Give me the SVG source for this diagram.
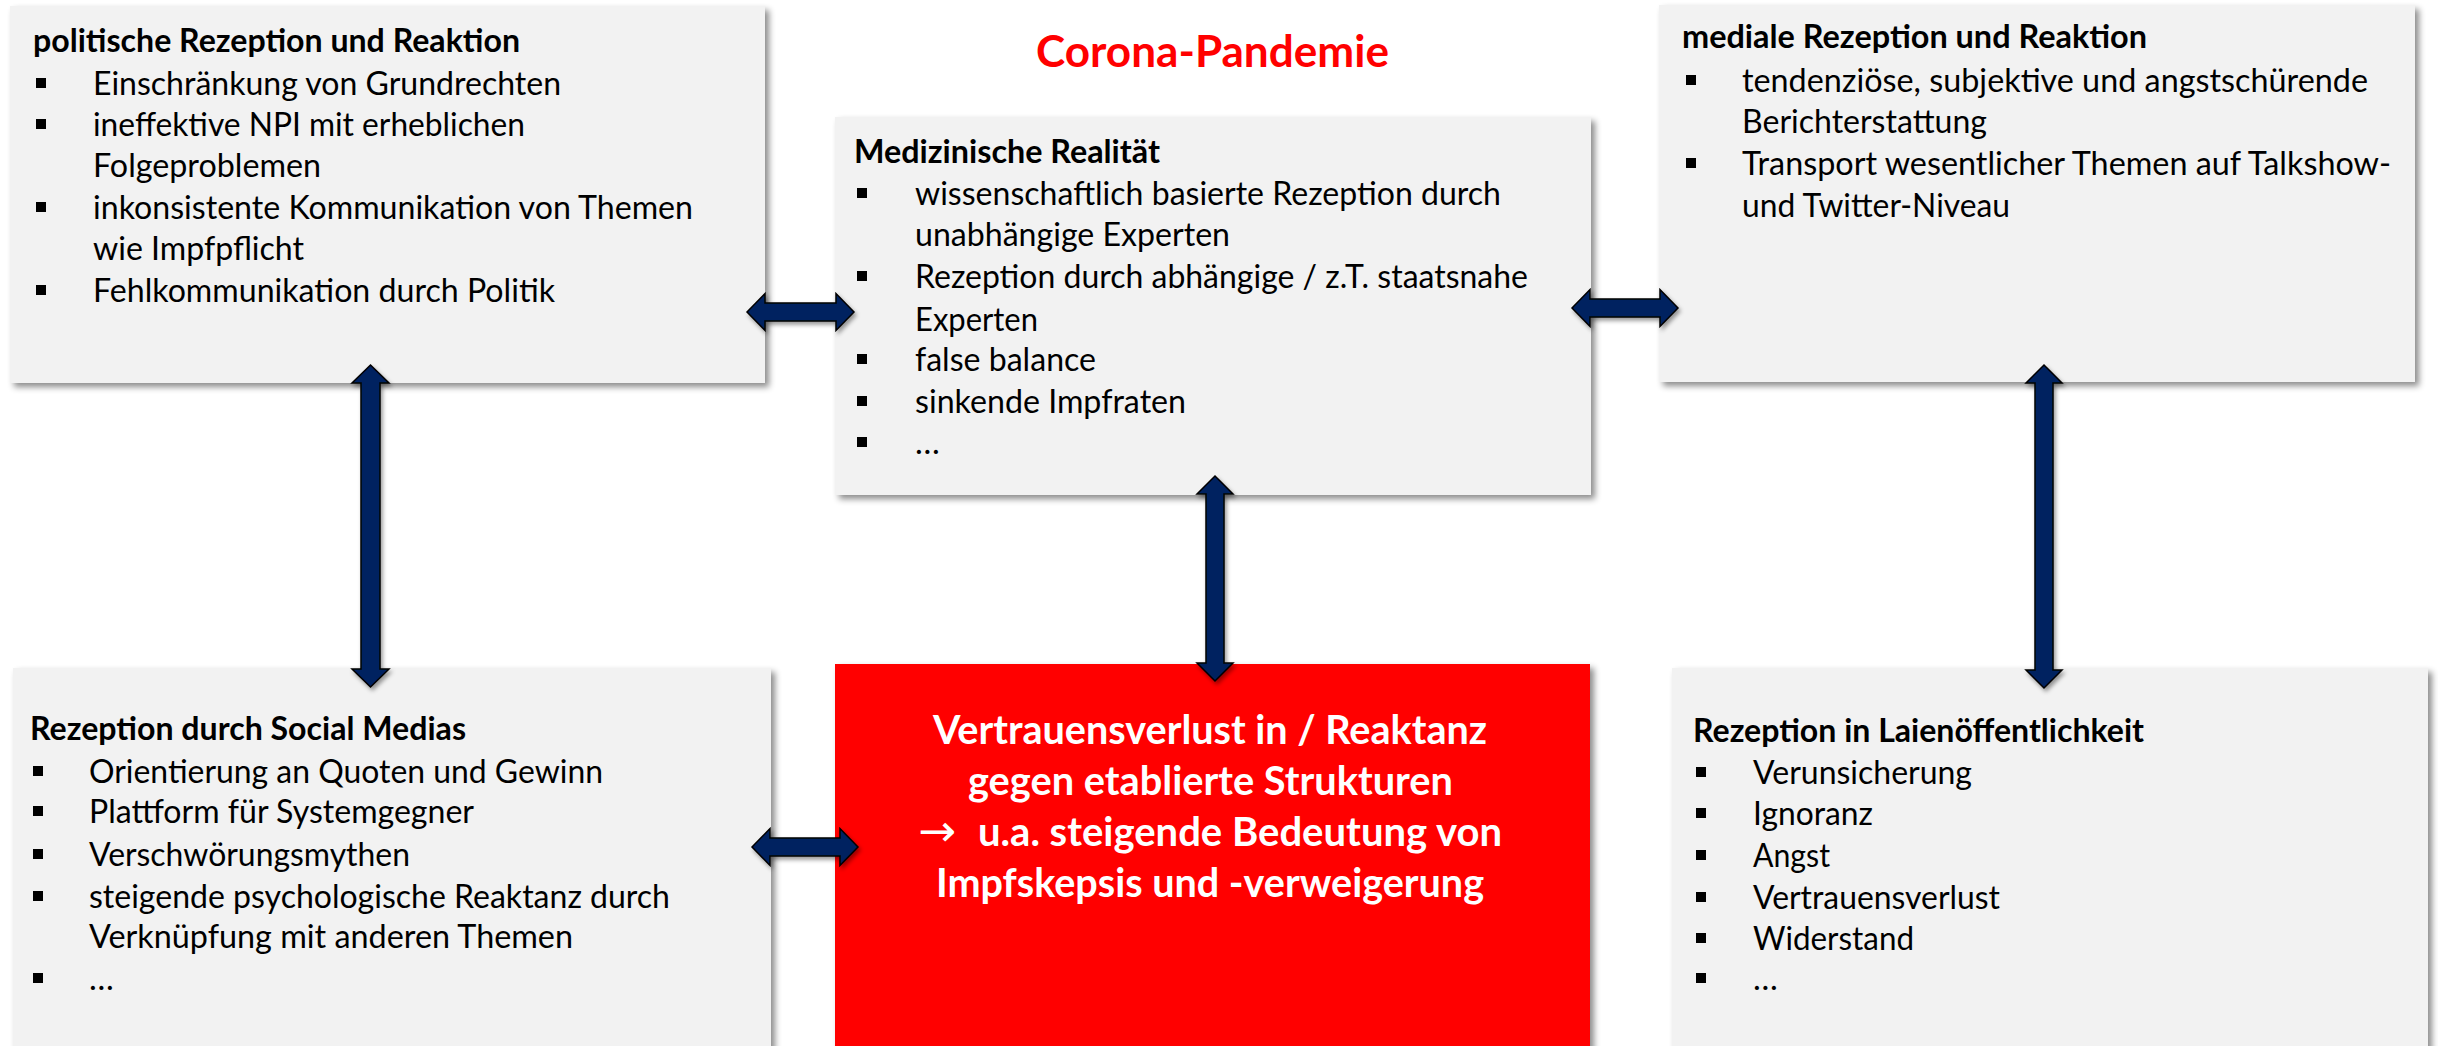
<svg xmlns="http://www.w3.org/2000/svg" width="2438" height="1046" viewBox="0 0 2438 1046">
<defs>
<filter id="sh" x="-5%" y="-5%" width="115%" height="115%">
<feDropShadow dx="4" dy="4" stdDeviation="3" flood-color="#000" flood-opacity="0.45"/>
</filter>
<filter id="ash" x="-20%" y="-20%" width="150%" height="150%">
<feDropShadow dx="2" dy="3" stdDeviation="2" flood-color="#000" flood-opacity="0.4"/>
</filter>
</defs>
<style>
.box{fill:#F2F2F2;filter:url(#sh)}
.red{fill:#FF0000;filter:url(#sh)}
.t{font-family:Lato,"Open Sans",sans-serif;font-size:33px;fill:#000}
.h{font-family:Lato,"Open Sans",sans-serif;font-size:33px;font-weight:bold;fill:#000}
.w{font-family:Lato,"Open Sans",sans-serif;font-size:40px;font-weight:bold;fill:#FFFFFF}
.title{font-family:Lato,"Open Sans",sans-serif;font-size:44px;font-weight:bold;fill:#FF0000}
.b{fill:#000}
.arr{fill:#002060;stroke:#000;stroke-width:1.5;stroke-linejoin:miter;filter:url(#ash)}
</style>
<rect width="2438" height="1046" fill="#FFFFFF"/>

<g id="title">
<text class="title" x="1036" y="67" textLength="353" lengthAdjust="spacingAndGlyphs">Corona-Pandemie</text>
</g>

<g id="n-politik">
<rect class="box" x="10" y="6" width="755" height="377"/>
<text class="h" x="33" y="52" textLength="487" lengthAdjust="spacingAndGlyphs">politische Rezeption und Reaktion</text>
<rect class="b" x="36" y="78" width="10" height="10"/>
<text class="t" x="93" y="95" textLength="468" lengthAdjust="spacingAndGlyphs">Einschränkung von Grundrechten</text>
<rect class="b" x="36" y="119" width="10" height="10"/>
<text class="t" x="93" y="136" textLength="432" lengthAdjust="spacingAndGlyphs">ineffektive NPI mit erheblichen</text>
<text class="t" x="93" y="177" textLength="228" lengthAdjust="spacingAndGlyphs">Folgeproblemen</text>
<rect class="b" x="36" y="202" width="10" height="10"/>
<text class="t" x="93" y="219" textLength="600" lengthAdjust="spacingAndGlyphs">inkonsistente Kommunikation von Themen</text>
<text class="t" x="93" y="260" textLength="211" lengthAdjust="spacingAndGlyphs">wie Impfpflicht</text>
<rect class="b" x="36" y="285" width="10" height="10"/>
<text class="t" x="93" y="302" textLength="462" lengthAdjust="spacingAndGlyphs">Fehlkommunikation durch Politik</text>
</g>

<g id="n-medizin">
<rect class="box" x="835" y="117" width="756" height="378"/>
<text class="h" x="854" y="163" textLength="306" lengthAdjust="spacingAndGlyphs">Medizinische Realität</text>
<rect class="b" x="857" y="188" width="10" height="10"/>
<text class="t" x="915" y="205" textLength="586" lengthAdjust="spacingAndGlyphs">wissenschaftlich basierte Rezeption durch</text>
<text class="t" x="915" y="246" textLength="315" lengthAdjust="spacingAndGlyphs">unabhängige Experten</text>
<rect class="b" x="857" y="271" width="10" height="10"/>
<text class="t" x="915" y="288" textLength="613" lengthAdjust="spacingAndGlyphs">Rezeption durch abhängige / z.T. staatsnahe</text>
<text class="t" x="915" y="331" textLength="123" lengthAdjust="spacingAndGlyphs">Experten</text>
<rect class="b" x="857" y="354" width="10" height="10"/>
<text class="t" x="915" y="371" textLength="181" lengthAdjust="spacingAndGlyphs">false balance</text>
<rect class="b" x="857" y="396" width="10" height="10"/>
<text class="t" x="915" y="413" textLength="271" lengthAdjust="spacingAndGlyphs">sinkende Impfraten</text>
<rect class="b" x="857" y="437" width="10" height="10"/>
<text class="t" x="915" y="454">…</text>
</g>

<g id="n-medial">
<rect class="box" x="1659" y="5" width="756" height="377"/>
<text class="h" x="1682" y="48" textLength="465" lengthAdjust="spacingAndGlyphs">mediale Rezeption und Reaktion</text>
<rect class="b" x="1686" y="75" width="10" height="10"/>
<text class="t" x="1742" y="92" textLength="626" lengthAdjust="spacingAndGlyphs">tendenziöse, subjektive und angstschürende</text>
<text class="t" x="1742" y="133" textLength="245" lengthAdjust="spacingAndGlyphs">Berichterstattung</text>
<rect class="b" x="1686" y="158" width="10" height="10"/>
<text class="t" x="1742" y="175" textLength="649" lengthAdjust="spacingAndGlyphs">Transport wesentlicher Themen auf Talkshow-</text>
<text class="t" x="1742" y="217" textLength="268" lengthAdjust="spacingAndGlyphs">und Twitter-Niveau</text>
</g>

<g id="n-social">
<rect class="box" x="13" y="668" width="758" height="400"/>
<text class="h" x="30" y="740" textLength="436" lengthAdjust="spacingAndGlyphs">Rezeption durch Social Medias</text>
<rect class="b" x="33" y="766" width="10" height="10"/>
<text class="t" x="89" y="783" textLength="514" lengthAdjust="spacingAndGlyphs">Orientierung an Quoten und Gewinn</text>
<rect class="b" x="33" y="806" width="10" height="10"/>
<text class="t" x="89" y="823" textLength="385" lengthAdjust="spacingAndGlyphs">Plattform für Systemgegner</text>
<rect class="b" x="33" y="849" width="10" height="10"/>
<text class="t" x="89" y="866" textLength="321" lengthAdjust="spacingAndGlyphs">Verschwörungsmythen</text>
<rect class="b" x="33" y="891" width="10" height="10"/>
<text class="t" x="89" y="908" textLength="581" lengthAdjust="spacingAndGlyphs">steigende psychologische Reaktanz durch</text>
<text class="t" x="89" y="948" textLength="484" lengthAdjust="spacingAndGlyphs">Verknüpfung mit anderen Themen</text>
<rect class="b" x="33" y="973" width="10" height="10"/>
<text class="t" x="89" y="990">…</text>
</g>

<g id="n-vertrauen">
<rect class="red" x="835" y="664" width="755" height="404"/>
<text class="w" x="933" y="744" textLength="554" lengthAdjust="spacingAndGlyphs">Vertrauensverlust in / Reaktanz</text>
<text class="w" x="968" y="795" textLength="485" lengthAdjust="spacingAndGlyphs">gegen etablierte Strukturen</text>
<text x="918" y="846" font-family="DejaVu Sans, sans-serif" font-size="44" fill="#FFFFFF" textLength="38" lengthAdjust="spacingAndGlyphs">→</text>
<text class="w" x="978" y="846" textLength="524" lengthAdjust="spacingAndGlyphs">u.a. steigende Bedeutung von</text>
<text class="w" x="936" y="897" textLength="548" lengthAdjust="spacingAndGlyphs">Impfskepsis und -verweigerung</text>
</g>

<g id="n-laien">
<rect class="box" x="1672" y="668" width="756" height="400"/>
<text class="h" x="1693" y="742" textLength="451" lengthAdjust="spacingAndGlyphs">Rezeption in Laienöffentlichkeit</text>
<rect class="b" x="1696" y="767" width="10" height="10"/>
<text class="t" x="1753" y="784" textLength="219" lengthAdjust="spacingAndGlyphs">Verunsicherung</text>
<rect class="b" x="1696" y="808" width="10" height="10"/>
<text class="t" x="1753" y="825" textLength="120" lengthAdjust="spacingAndGlyphs">Ignoranz</text>
<rect class="b" x="1696" y="850" width="10" height="10"/>
<text class="t" x="1753" y="867" textLength="77" lengthAdjust="spacingAndGlyphs">Angst</text>
<rect class="b" x="1696" y="892" width="10" height="10"/>
<text class="t" x="1753" y="909" textLength="247" lengthAdjust="spacingAndGlyphs">Vertrauensverlust</text>
<rect class="b" x="1696" y="933" width="10" height="10"/>
<text class="t" x="1753" y="950" textLength="161" lengthAdjust="spacingAndGlyphs">Widerstand</text>
<rect class="b" x="1696" y="973" width="10" height="10"/>
<text class="t" x="1753" y="990">…</text>
</g>

<g id="connectors">
<polygon class="arr" points="747,312 765,293.5 765,303 836,303 836,293.5 854,312 836,330.5 836,321 765,321 765,330.5"/>
<polygon class="arr" points="1572,308 1590,289.5 1590,299 1660,299 1660,289.5 1678,308 1660,326.5 1660,317 1590,317 1590,326.5"/>
<polygon class="arr" points="752,847 770,828.5 770,838 840,838 840,828.5 858,847 840,865.5 840,856 770,856 770,865.5"/>
<polygon class="arr" points="370.5,365 389,383 380,383 380,669 389,669 370.5,687 352,669 361,669 361,383 352,383"/>
<polygon class="arr" points="1215,476 1233,494 1224,494 1224,663 1233,663 1215,681 1197,663 1206,663 1206,494 1197,494"/>
<polygon class="arr" points="2044,365 2062,383 2053,383 2053,670 2062,670 2044,688 2026,670 2035,670 2035,383 2026,383"/>
</g>
</svg>
